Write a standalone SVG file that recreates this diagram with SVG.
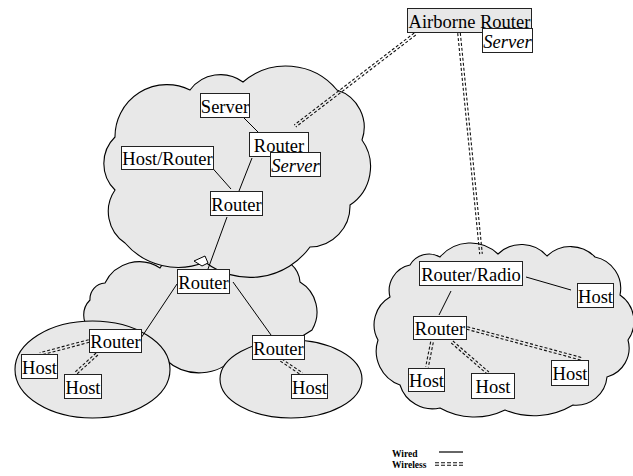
<svg xmlns="http://www.w3.org/2000/svg" width="633" height="476" viewBox="0 0 633 476">
<style>
.cloud{fill:#e8e8e8;stroke:#000;stroke-width:1.1}
.box{fill:#fff;stroke:#222;stroke-width:1}
.grey{fill:#e8e8e8}
.lbl{font-family:"Liberation Serif","Times New Roman",serif;font-size:18.5px;fill:#000;text-anchor:middle}
.it{font-style:italic}
.wired{stroke:#000;stroke-width:1;fill:none}
.wl{stroke:#111;stroke-width:1.1;stroke-dasharray:3 2;fill:none}
.leg{font-family:"Liberation Serif","Times New Roman",serif;font-size:9.5px;font-weight:bold;fill:#000}
</style>
<rect width="633" height="476" fill="#fff"/>
<g id="areas">
<path class="cloud" d="M90,330 A21,21 0 0 1 90,300 A16,16 0 0 1 105,283 A38,38 0 0 1 160,268 A30,30 0 0 1 200,255 A50,50 0 0 1 272,258 A26,26 0 0 1 300,282 A35,35 0 0 1 312,330 L280,350 L236,356 A49,49 0 0 1 166,360 Z"/>
<path class="cloud" d="M115,190 A37,37 0 0 1 115,137 A52,52 0 0 1 190,90 A38,38 0 0 1 243,82 A66,66 0 0 1 337,90 A39,39 0 0 1 362,140 A46,46 0 0 1 350,205 A41,41 0 0 1 310,247 A74,74 0 0 1 205,262 A70,70 0 0 1 125,243 A38,38 0 0 1 115,190 Z"/>
<polygon points="194,261 205,256 208,263 202,266" fill="#fff" stroke="#000" stroke-width="1"/>
<ellipse class="cloud" cx="92.5" cy="369.5" rx="77.5" ry="48.5"/>
<ellipse class="cloud" cx="291" cy="379" rx="71" ry="39"/>
<path class="cloud" d="M390,297 A26,26 0 0 1 410,265 A22,22 0 0 1 440,257 A40,40 0 0 1 498,254 A34,34 0 0 1 547,256 A34,34 0 0 1 595,257 A32,32 0 0 1 620,295 A32,32 0 0 1 628,340 A30,30 0 0 1 607,377 A31,31 0 0 1 573,405 A76,76 0 0 1 505,410 A70,70 0 0 1 440,408 A34,34 0 0 1 400,385 A36,36 0 0 1 378,340 A32,32 0 0 1 390,297 Z"/>
</g>
<g id="connectors">
<line class="wired" x1="238" y1="112" x2="258" y2="132"/>
<line class="wired" x1="208" y1="163" x2="231" y2="189"/>
<line class="wired" x1="252" y1="158" x2="239" y2="191"/>
<line class="wired" x1="227" y1="217" x2="208" y2="269"/>
<line class="wired" x1="177" y1="284" x2="141" y2="338"/>
<line class="wired" x1="233" y1="282" x2="271" y2="335"/>
<line class="wired" x1="526" y1="277" x2="571" y2="290"/>
<line class="wired" x1="451" y1="291" x2="439" y2="315"/>
<path class="wl" d="M415.8,35 L295.8,127 M414.2,33 L294.2,125"/>
<path class="wl" d="M460.3,32.9 L482.3,253.9 M457.7,33.1 L479.7,254.1"/>
<path class="wl" d="M89.3,342.3 L40.3,355.3 M88.7,339.7 L39.7,352.7"/>
<path class="wl" d="M97.9,355 L76.9,374 M96.1,353 L75.1,372"/>
<path class="wl" d="M281.7,358.9 L302.7,372.9 M280.3,361.1 L301.3,375.1"/>
<path class="wl" d="M433.3,342.3 L428.3,367.3 M430.7,341.7 L425.7,366.7"/>
<path class="wl" d="M452.9,341 L488.9,372 M451.2,343 L487.2,374"/>
<path class="wl" d="M467.3,326.7 L582.3,357.7 M466.7,329.3 L581.7,360.3"/>
</g>
<g id="n_airborne"><rect class="box grey" x="407.5" y="8.5" width="124" height="24"/><text class="lbl" x="469.5" y="27.5">Airborne Router</text></g>
<g id="n_airborne_server"><rect class="box" x="482.5" y="28.5" width="50" height="24"/><text class="lbl it" x="507.5" y="47.5">Server</text></g>
<g id="n_server"><rect class="box" x="200.5" y="93.5" width="49" height="24"/><text class="lbl" x="225" y="112.5">Server</text></g>
<g id="n_router_top"><rect class="box" x="249.5" y="132.5" width="59" height="24"/><text class="lbl" x="279" y="151.5">Router</text></g>
<g id="n_router_top_server"><rect class="box" x="270.5" y="152.5" width="50" height="24"/><text class="lbl it" x="295.5" y="171.5">Server</text></g>
<g id="n_hostrouter"><rect class="box" x="121.5" y="146.5" width="92" height="23"/><text class="lbl" x="167.5" y="165">Host/Router</text></g>
<g id="n_router_mid"><rect class="box" x="210.5" y="191.5" width="52" height="24"/><text class="lbl" x="236.5" y="210.5">Router</text></g>
<g id="n_router_core"><rect class="box" x="177.5" y="269.5" width="52" height="24"/><text class="lbl" x="203.5" y="288.5">Router</text></g>
<g id="n_router_left"><rect class="box" x="89.5" y="329.5" width="52" height="23"/><text class="lbl" x="115.5" y="348">Router</text></g>
<g id="n_host_l1"><rect class="box" x="21.5" y="354.5" width="36" height="24"/><text class="lbl" x="39.5" y="373.5">Host</text></g>
<g id="n_host_l2"><rect class="box" x="64.5" y="374.5" width="37" height="24"/><text class="lbl" x="83" y="393.5">Host</text></g>
<g id="n_router_right"><rect class="box" x="252.5" y="335.5" width="52" height="24"/><text class="lbl" x="278.5" y="354.5">Router</text></g>
<g id="n_host_r"><rect class="box" x="291.5" y="374.5" width="36" height="24"/><text class="lbl" x="309.5" y="393.5">Host</text></g>
<g id="n_router_radio"><rect class="box" x="419.5" y="261.5" width="103" height="24"/><text class="lbl" x="471" y="280.5">Router/Radio</text></g>
<g id="n_host_rr"><rect class="box" x="577.5" y="283.5" width="36" height="24"/><text class="lbl" x="595.5" y="302.5">Host</text></g>
<g id="n_router_rc"><rect class="box" x="413.5" y="316.5" width="53" height="23"/><text class="lbl" x="440" y="335">Router</text></g>
<g id="n_host_rc1"><rect class="box" x="408.5" y="368.5" width="36" height="23"/><text class="lbl" x="426.5" y="387">Host</text></g>
<g id="n_host_rc2"><rect class="box" x="471.5" y="373.5" width="43" height="25"/><text class="lbl" x="493" y="393">Host</text></g>
<g id="n_host_rc3"><rect class="box" x="551.5" y="360.5" width="37" height="25"/><text class="lbl" x="570" y="380">Host</text></g>
<g id="legend">
<text class="leg" x="392" y="457">Wired</text>
<line x1="439" y1="452" x2="463" y2="452" stroke="#000" stroke-width="1.2"/>
<text class="leg" x="392" y="468">Wireless</text>
<path class="wl" d="M435,462.8 L463,462.8 M435,465.2 L463,465.2" style="stroke-dasharray:4 2"/>
</g>
</svg>
